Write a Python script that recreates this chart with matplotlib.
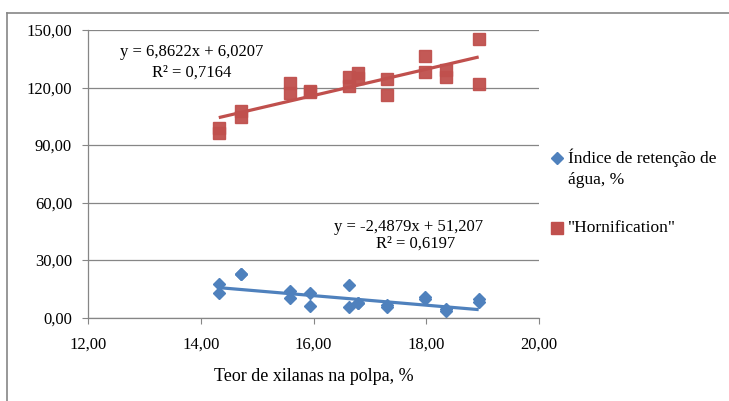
import matplotlib.pyplot as plt
import numpy as np
from matplotlib.lines import Line2D

plt.rcParams['font.family'] = ['Liberation Serif', 'DejaVu Serif']

# xylan content in pulp, %
xilanas = [14.32, 14.32, 14.72, 14.72, 15.59, 15.59, 15.94, 15.94, 16.63, 16.63,
           16.79, 16.79, 17.31, 17.31, 17.98, 17.98, 18.35, 18.35, 18.93, 18.93]
# water retention index, %
retencao = [17.3, 12.6, 22.5, 22.5, 14.0, 10.0, 12.6, 6.2, 17.0, 5.6,
            7.4, 7.4, 5.6, 6.5, 10.9, 9.9, 4.3, 3.4, 9.5, 7.9]
# hornification, %
hornification = [98.8, 96.2, 107.9, 104.4, 122.2, 117.0, 117.5, 118.0, 125.3, 120.9,
                 127.4, 124.8, 124.4, 116.2, 136.4, 127.9, 129.1, 125.6, 145.3, 121.8]

# trendline coefficients (slope, intercept) as printed on the chart
fit_retencao = (-2.4879, 51.207)
fit_horn = (6.8622, 6.0207)
eq_retencao = ["y = -2,4879x + 51,207", "R² = 0,6197"]
eq_horn = ["y = 6,8622x + 6,0207", "R² = 0,7164"]
legend_labels = [["Índice de retenção de", "água, %"], ['"Hornification"']]

x_ticks = [12, 14, 16, 18, 20]
y_ticks = [0, 30, 60, 90, 120, 150]

BLUE = "#4F81BD"
RED = "#C0504D"
GRID = "#868686"
W, H = 729, 401

fig = plt.figure(figsize=(W / 100, H / 100), dpi=100)
ax = fig.add_axes([88 / W, 1 - 317.5 / H, (539 - 88) / W, (317.5 - 30) / H])

x = np.array(xilanas)
xl = np.array([x.min(), x.max()])
ax.plot(xl, fit_horn[0] * xl + fit_horn[1], color=RED, lw=2.3, solid_capstyle='butt', zorder=3)
ax.plot(xl, fit_retencao[0] * xl + fit_retencao[1], color=BLUE, lw=2.3, solid_capstyle='butt', zorder=3)
ax.plot(x, hornification, ls='none', marker='s', ms=9.3, color=RED, mec=RED, alpha=0.95, zorder=2)
ax.plot(x, retencao, ls='none', marker='D', ms=6.2, color=BLUE, mec=BLUE, zorder=2)

ax.set_xlim(12, 20)
ax.set_ylim(0, 150)
ax.set_xticks(x_ticks)
ax.set_yticks(y_ticks)
ax.set_xticklabels([f"{v:.2f}".replace('.', ',') for v in x_ticks])
ax.set_yticklabels([f"{v:.2f}".replace('.', ',') for v in y_ticks])
ax.tick_params(axis='both', colors=GRID, labelcolor='black', labelsize=12, length=4.5, width=0.8)
ax.tick_params(axis='y', pad=7)
ax.tick_params(axis='x', pad=9)
ax.grid(axis='y', color=GRID, lw=0.9)
ax.set_axisbelow(True)
for s in ['top', 'right']:
    ax.spines[s].set_visible(False)
for s in ['left', 'bottom']:
    ax.spines[s].set_color(GRID)
    ax.spines[s].set_linewidth(0.9)
ax.set_xlabel("Teor de xilanas na polpa, %", fontsize=13, labelpad=11)

# trendline equations
fig.text(192 / W, 1 - 52 / H, eq_horn[0], fontsize=12, ha='center', va='center')
fig.text(192 / W, 1 - 73 / H, eq_horn[1], fontsize=12, ha='center', va='center')
fig.text(409 / W, 1 - 227 / H, eq_retencao[0], fontsize=12, ha='center', va='center')
fig.text(416 / W, 1 - 244 / H, eq_retencao[1], fontsize=12, ha='center', va='center')

# legend, key aligned with the first text line as in Excel
legend_rows = [(158, 'D', 6, BLUE), (228, 's', 8, RED)]
for (py, mk, ms, col), lines in zip(legend_rows, legend_labels):
    fig.add_artist(Line2D([557 / W], [1 - py / H], ls='none', marker=mk, ms=ms, color=col))
    for i, line in enumerate(lines):
        fig.text(567.5 / W, 1 - (py + 22 * i) / H, line, fontsize=12.5, ha='left', va='center')

# outer chart border
fig.add_artist(Line2D([7 / W, 7 / W], [0, 1 - 13 / H], color=GRID, lw=1.2))
fig.add_artist(Line2D([7 / W, 1], [1 - 13 / H, 1 - 13 / H], color=GRID, lw=1.2))

fig.savefig("out.png", dpi=100)
